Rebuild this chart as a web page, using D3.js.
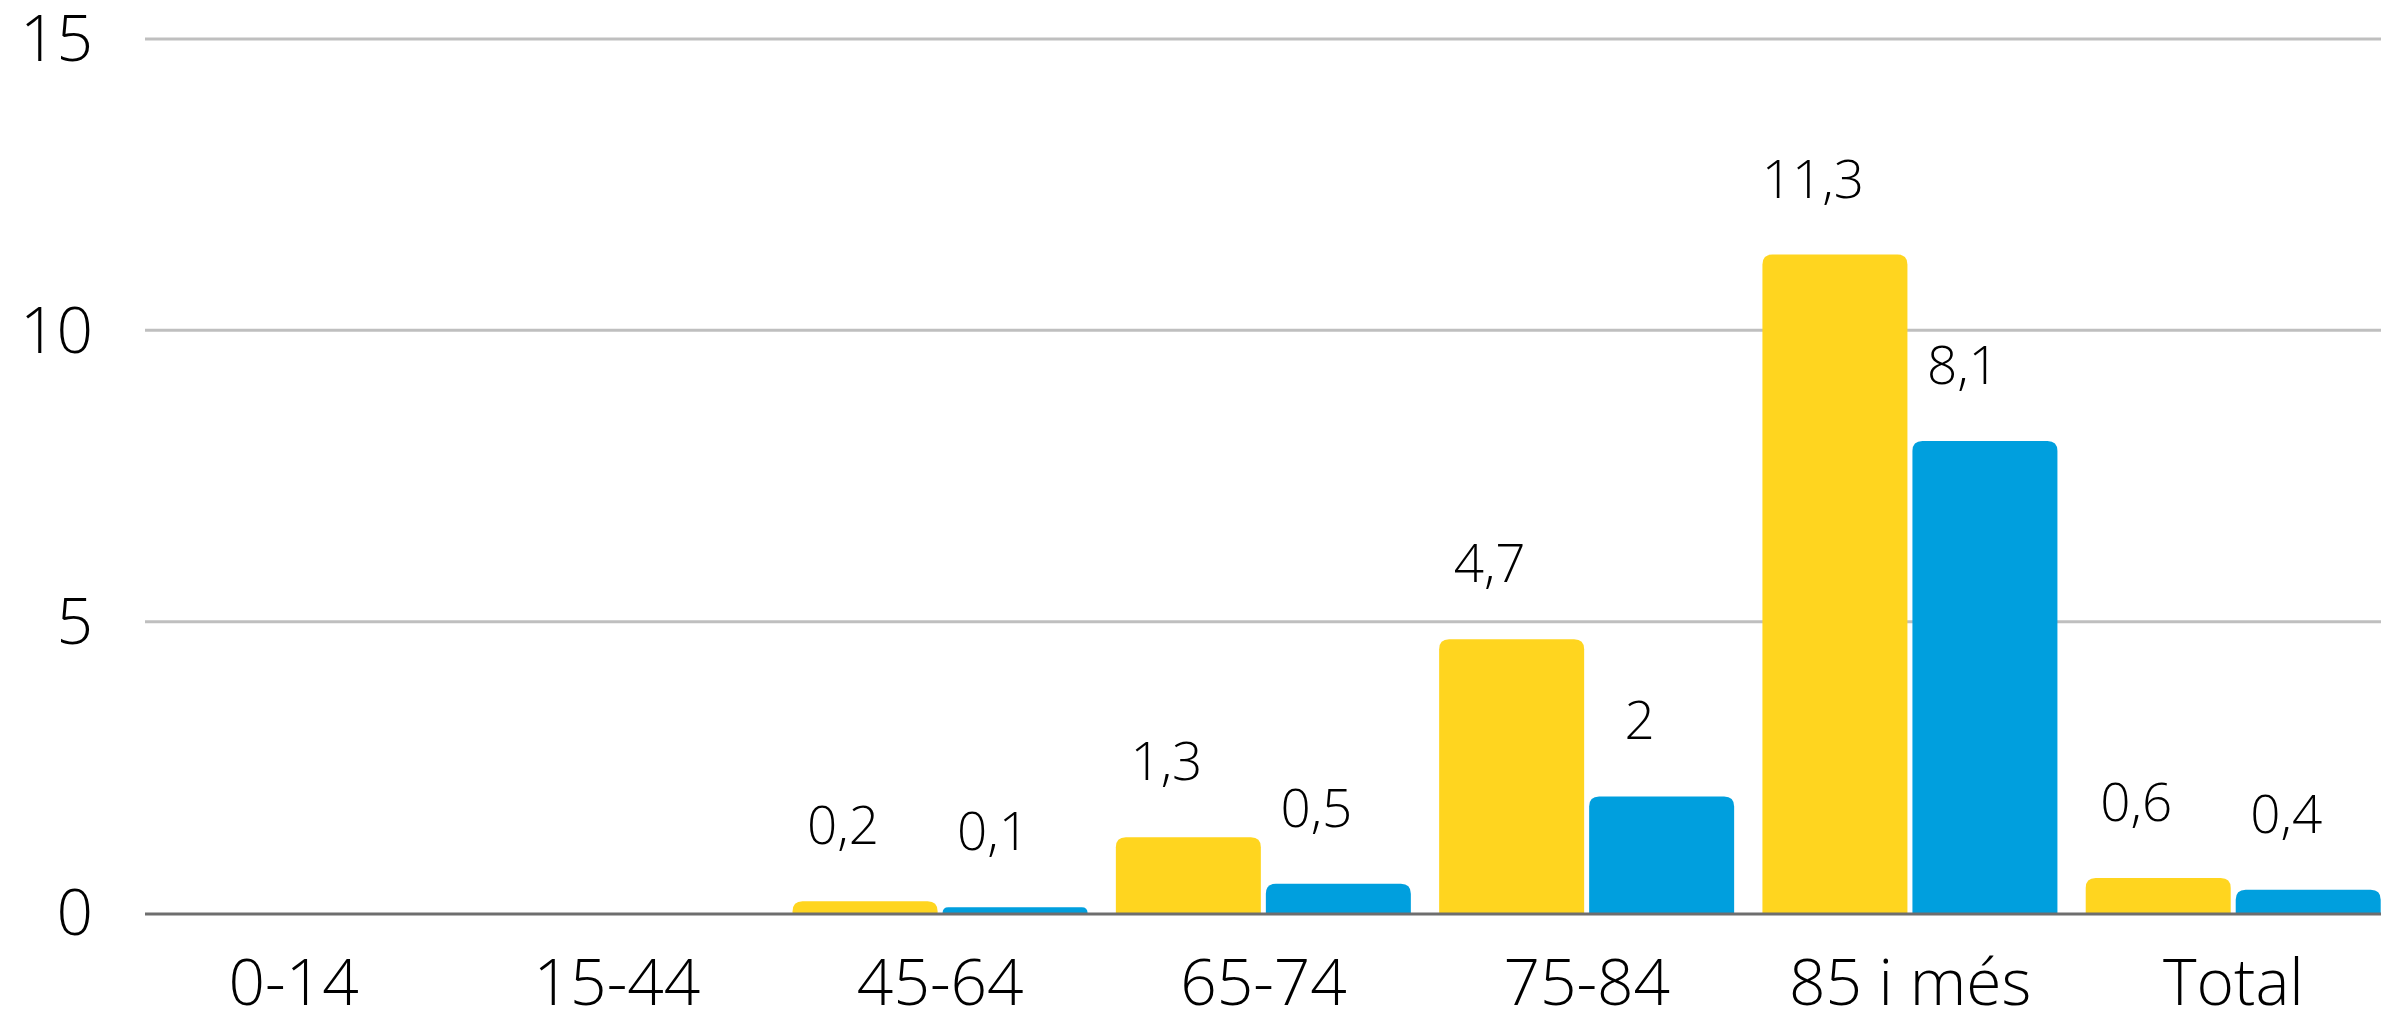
<!DOCTYPE html>
<html>
<head>
<meta charset="utf-8">
<script src="https://cdn.jsdelivr.net/npm/d3@7"></script>
<style>
	body { margin:0; background:#fff; }
	text { font-family:"Open Sans", sans-serif; font-weight:300; fill:#000; }
</style>
</head>
<body>
<div class="visualisation"></div>
<script>
//DATA
var categories = ["0-14", "15-44", "45-64", "65-74", "75-84", "85 i més", "Total"];
var series = ["groc", "blau"];
var valuesGroc = [null, null, 0.2, 1.3, 4.7, 11.3, 0.6];
var valuesBlau = [null, null, 0.1, 0.5, 2, 8.1, 0.4];
var yTicks = [0, 5, 10, 15];
var colors = {groc: "#ffd51f", blau: "#009fde"};

//CANVAS
var W = 2398, H = 1012;
var svg = d3.select(".visualisation").append("svg")
	.attr("width", W)
	.attr("height", H);

//SCALES
var y = d3.scaleLinear().domain([0, 15]).range([913, 39]);
var x0 = d3.scaleBand().domain(categories).range([132, 2395]);
var x1 = d3.scaleBand().domain(series).range([14, 309]).paddingInner(0.0333);

var gridLeft = 145, gridRight = 2381;

//GRID
svg.append("g").attr("class", "grid")
	.selectAll("line")
	.data(yTicks.filter(function(t){ return t > 0; }))
	.enter().append("line")
		.attr("x1", gridLeft).attr("x2", gridRight)
		.attr("y1", function(d){ return y(d); })
		.attr("y2", function(d){ return y(d); })
		.attr("stroke", "#bfbfbf")
		.attr("stroke-width", 3);

//Y LABELS
svg.append("g").attr("class", "y-axis")
	.selectAll("text")
	.data(yTicks)
	.enter().append("text")
		.attr("x", 93)
		.attr("y", function(d){ return y(d); })
		.attr("dy", "0.35em")
		.attr("text-anchor", "end")
		.style("font-size", "64px")
		.text(function(d){ return d; });

//BARS
var rows = [];
categories.forEach(function(c, i){
	rows.push({cat: c, key: "groc", value: valuesGroc[i]});
	rows.push({cat: c, key: "blau", value: valuesBlau[i]});
});
var barData = rows.filter(function(d){ return d.value != null; });

function topRounded(x, yTop, w, h, r){
	r = Math.min(r, h, w / 2);
	return "M" + x + "," + (yTop + h) +
		"V" + (yTop + r) +
		"Q" + x + "," + yTop + " " + (x + r) + "," + yTop +
		"H" + (x + w - r) +
		"Q" + (x + w) + "," + yTop + " " + (x + w) + "," + (yTop + r) +
		"V" + (yTop + h) + "Z";
}

svg.append("g").attr("class", "bars")
	.selectAll("path")
	.data(barData)
	.enter().append("path")
		.attr("fill", function(d){ return colors[d.key]; })
		.attr("d", function(d){
			var bx = x0(d.cat) + x1(d.key);
			return topRounded(bx, y(d.value), x1.bandwidth(), y(0) - y(d.value), 10);
		});

//ZERO LINE
svg.append("line")
	.attr("x1", gridLeft).attr("x2", gridRight)
	.attr("y1", y(0) + 1).attr("y2", y(0) + 1)
	.attr("stroke", "#6e6e6e")
	.attr("stroke-width", 3);

//VALUE LABELS
var fmt = function(v){ return String(v).replace(".", ","); };
svg.append("g").attr("class", "labels")
	.selectAll("text")
	.data(barData)
	.enter().append("text")
		.attr("x", function(d){ return x0(d.cat) + x1(d.key) + x1.bandwidth() / 2 - 22; })
		.attr("y", function(d){ return y(d.value) - 57; })
		.attr("text-anchor", "middle")
		.style("font-size", "53px")
		.text(function(d){ return fmt(d.value); });

//X LABELS
svg.append("g").attr("class", "x-axis")
	.selectAll("text")
	.data(categories)
	.enter().append("text")
		.attr("x", function(d){ return x0(d) + x0.bandwidth() / 2; })
		.attr("y", 1005)
		.attr("text-anchor", "middle")
		.style("font-size", "64px")
		.text(function(d){ return d; });
</script>
</body>
</html>
